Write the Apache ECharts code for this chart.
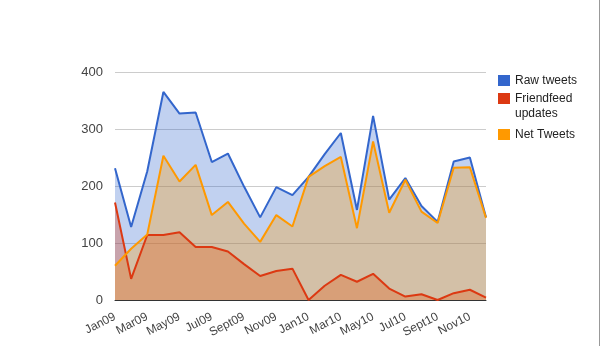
<!DOCTYPE html>
<html>
<head>
<meta charset="utf-8">
<script src="https://cdn.jsdelivr.net/npm/echarts@6/dist/echarts.min.js"></script>
<style>
  html, body { margin: 0; padding: 0; background: #fff; }
  #chart { width: 601px; height: 346px; }
</style>
</head>
<body>
<div id="chart"></div>
<script>
// Monthly activity, Jan 2009 – Dec 2010
const months = [
  'Jan09', 'Feb09', 'Mar09', 'Apr09', 'May09', 'Jun09', 'Jul09', 'Aug09', 'Sept09', 'Oct09', 'Nov09', 'Dec09',
  'Jan10', 'Feb10', 'Mar10', 'Apr10', 'May10', 'Jun10', 'Jul10', 'Aug10', 'Sept10', 'Oct10', 'Nov10', 'Dec10'
];
const rawTweets = [
  231, 128, 226, 365, 327, 329, 242, 257, 199, 145, 198, 184,
  216, 256, 293, 158, 323, 176, 214, 165, 137, 243, 250, 145
];
const friendfeedUpdates = [
  171, 37, 114, 114, 119, 93, 93, 85, 63, 42, 51, 55,
  0, 25, 44, 32, 46, 20, 6, 10, 0, 12, 18, 4
];
const netTweets = [
  60, 90, 115, 253, 208, 237, 149, 172, 134, 102, 149, 129,
  216, 235, 251, 126, 278, 153, 211, 155, 135, 232, 233, 144
];
const yTicks = { min: 0, max: 400, step: 100 };

const FONT = 'Arial, "Liberation Sans", sans-serif';
const COLORS = ['#3366cc', '#dc3912', '#ff9900'];

function areaSeries(name, values, color) {
  return {
    name: name,
    type: 'line',
    data: values,
    symbol: 'none',
    lineStyle: { width: 2, color: color },
    itemStyle: { color: color },
    areaStyle: { color: color, opacity: 0.3 },
    emphasis: { disabled: true }
  };
}

// One legend block per entry so each can sit at its own height;
// the wrapped entry keeps its swatch beside the first line.
function legendItem(name, top, label) {
  return {
    orient: 'vertical',
    left: 498,
    top: top,
    padding: 0,
    itemWidth: 12,
    itemHeight: 11,
    itemGap: 0,
    icon: 'rect',
    selectedMode: false,
    data: [name],
    formatter: label || '{name}',
    textStyle: { fontFamily: FONT, fontSize: 12, color: '#222', lineHeight: 15 }
  };
}

const chart = echarts.init(document.getElementById('chart'), null, { renderer: 'canvas' });
chart.setOption({
  animation: false,
  backgroundColor: '#fff',
  color: COLORS,
  grid: { left: 115, right: 115, top: 72, bottom: 46 },
  legend: [
    legendItem('Raw tweets', 73),
    legendItem('Friendfeed updates', 76, '\nFriendfeed\nupdates'),
    legendItem('Net Tweets', 127)
  ],
  xAxis: {
    type: 'category',
    data: months,
    boundaryGap: false,
    axisLine: { lineStyle: { color: '#333', width: 1 } },
    axisTick: { show: false },
    axisLabel: {
      interval: 1,
      rotate: 27,
      margin: 16,
      fontFamily: FONT,
      fontSize: 12,
      color: '#444'
    },
    splitLine: { show: false }
  },
  yAxis: {
    type: 'value',
    min: yTicks.min,
    max: yTicks.max,
    interval: yTicks.step,
    axisLine: { show: false },
    axisTick: { show: false },
    axisLabel: { margin: 12, fontFamily: FONT, fontSize: 13, color: '#444' },
    splitLine: { lineStyle: { color: '#cccccc', width: 1 } }
  },
  series: [
    areaSeries('Raw tweets', rawTweets, COLORS[0]),
    areaSeries('Friendfeed updates', friendfeedUpdates, COLORS[1]),
    areaSeries('Net Tweets', netTweets, COLORS[2])
  ],
  graphic: [
    {
      type: 'line',
      shape: { x1: 599.5, y1: 0, x2: 599.5, y2: 346 },
      style: { stroke: '#999', lineWidth: 1 },
      silent: true
    }
  ]
});
</script>
</body>
</html>
